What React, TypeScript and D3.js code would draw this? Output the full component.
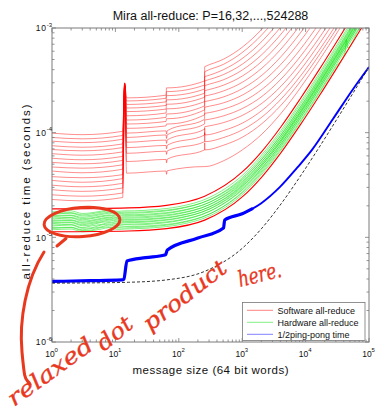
import React, { useEffect } from "react";
import * as d3 from "d3";

// ---------- software all-reduce (16 process counts, largest P first), times in microseconds ----------
const swSizes = [1, 3, 13, 14, 15, 63, 64, 66, 255, 256, 258, 512, 1024, 2048, 4096, 8192, 16384, 32768, 65536];
const swAt1 = [99, 90, 83, 75, 69, 63, 57, 52, 47, 43, 38, 35, 31.5, 28.5, 25.5, 23];
const swAt3 = [95.7, 87.3, 80.3, 72.6, 67.1, 60.9, 55.1, 50.4, 45.8, 41.4, 37.1, 33.6, 30.4, 27.5, 24.7, 22.3];
const swAt13 = [103, 94, 86.5, 78, 72, 65.5, 59.3, 54.3, 49.3, 44.7, 39.7, 36.4, 32.8, 29.6, 26.5, 24];
const swAt14 = [300, 298, 296, 294, 292, 290, 288, 286, 284, 282, 280, 278, 276, 274, 272, 270];
const swAt15 = [215, 201, 186, 172, 159, 145, 132, 121, 110, 99, 90, 81, 72, 63.5, 53, 41];
const swAt63 = [228, 213, 197, 182, 168, 154, 140, 128, 116, 104, 95, 85, 75.5, 66.5, 55.5, 43];
const swAt64 = [268, 247, 226, 206, 187, 169, 151, 136, 121, 97, 88, 79, 70, 62, 51.5, 40];
const swAt66 = [268, 247, 226, 206, 187, 169, 151, 136, 121, 104.5, 95.5, 85.5, 76, 67, 56, 43.3];
const swAt255 = [312, 285, 261, 238, 218, 198, 180, 165, 148, 134, 121, 108, 95, 82, 68.4, 47.4];
const swAt256 = [427, 382, 343, 312, 281, 252, 224, 198, 175, 153, 132, 114, 110, 100, 80, 47.4];
const swAt258 = [428, 383, 343.5, 312.5, 281.5, 252.3, 224.2, 198.2, 175.2, 153.1, 132.1, 114.1, 95, 82, 68.4, 47.4];
const swAt512 = [505, 451, 401, 360, 321, 285, 251, 220, 193, 168, 145, 125, 105, 90, 76, 54];
const swAt1024 = [662, 589, 516, 455, 400, 350, 305, 265, 230, 198, 171, 147, 124, 107, 91, 69];
const swAt2048 = [975, 864, 746, 646, 558, 481, 414, 354, 304, 259, 222, 191, 163, 141, 122, 97];
const swAt4096 = [1601, 1415, 1207, 1028, 874, 744, 630, 533, 451, 380, 325, 278, 240, 209, 183, 153];
const swAt8192 = [null, null, null, 1791, 1507, 1268, 1064, 891, 746, 622, 531, 454, 394, 344, 306, 266];
const swAt16384 = [null, null, null, null, null, null, null, 1606, 1335, 1106, 943, 804, 703, 614, 552, 491];
const swAt32768 = [null, null, null, null, null, null, null, null, null, null, 1767, 1505, 1321, 1155, 1043, 941];
const swAt65536 = [null, null, null, null, null, null, null, null, null, null, null, null, null, null, null, 1842];
const swColumns = [swAt1, swAt3, swAt13, swAt14, swAt15, swAt63, swAt64, swAt66, swAt255, swAt256, swAt258,
  swAt512, swAt1024, swAt2048, swAt4096, swAt8192, swAt16384, swAt32768, swAt65536];

// ---------- bounding model curves (red, thicker) ----------
const boundSizes = [1, 16, 64, 256, 1024, 2048, 4096, 8192, 16384, 32768, 65536, 100000];
const upperBound = [18.7, 19.1, 20.2, 24.7, 42.6, 66.4, 114, 210, 400, 782, 1546, null];
const lowerBound = [11.3, 11.5, 12.1, 14.6, 24.6, 37.9, 64.5, 118, 224, 437, 863, 1311];

// ---------- hardware all-reduce (green) ----------
const hwSizes = [1, 2, 3, 4, 6, 8, 11, 14, 20, 40, 100, 300, 1000, 3000, 10000, 30000, 65536, 100000];
const hwTimes = [
  [11.8, 12.0, 11.3, 11.5, 12.0, 12.4, 11.9, 12.0, 12.08, 12.35, 13.18, 15.94, 25.6, 53.2, 149.8, 425.8, 916, 1392],
  [12.1, 12.4, 11.6, 11.7, 12.4, 12.6, 12.3, 12.3, 12.4, 12.7, 13.6, 16.6, 27.1, 57.1, 162.1, 462.1, 995, 1512],
  [12.4, 12.5, 11.8, 12.1, 12.6, 13.1, 12.5, 12.7, 12.68, 12.97, 13.82, 16.66, 26.6, 55, 154.4, 438.4, 943, 1432],
  [12.8, 13.1, 12.2, 12.3, 13.1, 13.4, 12.9, 13.2, 13.12, 13.44, 14.4, 17.6, 28.8, 60.8, 172.8, 492.8, 1061, null],
  [13.1, 13.3, 12.4, 12.8, 13.3, 13.8, 13.3, 13.4, 13.4, 13.71, 14.62, 17.66, 28.3, 58.7, 165.1, 469.1, 1009, null],
  [13.5, 13.8, 12.9, 13.1, 13.9, 14.1, 13.6, 13.9, 13.84, 14.18, 15.2, 18.6, 30.5, 64.5, 183.5, 523.5, 1128, null],
  [13.8, 14.0, 13.2, 13.5, 14.1, 14.6, 14.0, 14.2, 14.12, 14.43, 15.38, 18.54, 29.6, 61.2, 171.8, 487.8, 1049, null],
  [14.2, 14.5, 13.6, 13.8, 14.5, 14.9, 14.3, 14.6, 14.55, 14.9, 15.95, 19.45, 31.7, 66.7, 189.2, 539.2, 1161, null],
  [14.5, 14.7, 13.9, 14.2, 14.9, 15.3, 14.7, 14.9, 14.83, 15.16, 16.15, 19.45, 31, 64, 179.5, 509.5, 1096, null],
  [14.9, 15.3, 14.3, 14.5, 15.2, 15.6, 15.1, 15.3, 15.27, 15.64, 16.75, 20.45, 33.4, 70.4, 199.9, 569.9, 1227, null],
  [15.3, 15.5, 14.7, 15.0, 15.7, 16.1, 15.4, 15.7, 15.64, 15.99, 17.02, 20.46, 32.5, 66.9, 187.3, 531.3, 1143, null],
  [15.7, 16.1, 15.1, 15.3, 16.0, 16.4, 15.9, 16.1, 16.09, 16.48, 17.65, 21.55, 35.2, 74.2, 210.7, 600.7, 1294, null],
  [16.1, 16.3, 15.5, 15.8, 16.5, 17.0, 16.3, 16.5, 16.46, 16.82, 17.9, 21.5, 34.1, 70.1, 196.1, 556.1, 1196, null],
  [16.6, 17.0, 16.0, 16.2, 16.9, 17.4, 16.8, 17.0, 17.01, 17.42, 18.65, 22.75, 37.1, 78.1, 221.6, 631.6, 1360, null],
  [17.0, 17.2, 16.4, 16.7, 17.4, 17.9, 17.2, 17.4, 17.38, 17.76, 18.9, 22.7, 36, 74, 207, 587, 1262, null],
  [17.5, 17.9, 16.9, 17.1, 17.8, 18.3, 17.7, 17.9, 17.93, 18.36, 19.65, 23.95, 39, 82, 232.5, 662.5, 1426, null],
];
const hwSpikeSizes = [42000, 44000, 46000];
const hwSpikeTimes = [591, 780, 647];

// ---------- 1/2 ping-pong time (blue) ----------
const ppSizes = [1, 4, 12.7, 13.6, 15.2, 30, 60, 62, 66, 200, 500, 508, 530, 1000, 1480, 2000, 3950, 7310, 12600, 27000, 55900, 100000];
const ppTimes = [3.79, 3.85, 3.92, 3.98, 5.95, 6.4, 6.79, 6.85, 7.58, 9.85, 12.2, 12.3, 14.66, 16.8, 18.9, 21.2, 30.3, 46, 68.4, 135, 260, 424];

// ---------- ping-pong model (black dashed) ----------
const modelSizes = [1, 4, 16, 64, 256, 1024, 2048, 4096, 8192, 16384, 32768, 65536, 100000];
const modelTimes = [3.65, 3.67, 3.72, 3.92, 4.73, 7.95, 12.25, 20.85, 38.1, 72.5, 141.3, 278.9, 423.7];

// ---------- axes / legend text ----------
const xTickValues = [1, 10, 100, 1000, 10000, 100000];
const xTickExps = ["0", "1", "2", "3", "4", "5"];
const yTickValues = [1e-6, 1e-5, 1e-4, 1e-3];
const yTickExps = ["-6", "-5", "-4", "-3"];
const legendNames = ["Software all-reduce", "Hardware all-reduce", "1/2ping-pong time"];
const legendColors = ["#ff0000", "#00e000", "#0000ff"];

const FONT = "'Liberation Sans', Arial, Helvetica, sans-serif";
const INK = "#e8391f";

type Pt = [number, number];

export default function App() {
  useEffect(() => {
    document.body.style.margin = "0";
  }, []);

  const x = d3.scaleLog().domain([1, 1e5]).range([52, 369]);
  const y = d3.scaleLog().domain([1e-6, 1e-3]).range([342, 28]);
  const line = d3
    .line<Pt>()
    .x((d) => x(d[0]))
    .y((d) => y(d[1] * 1e-6))
    .curve(d3.curveMonotoneX);

  const pairs = (sizes: number[], vals: (number | null)[]): Pt[] =>
    sizes.map((m, k) => [m, vals[k]] as [number, number | null]).filter((p) => p[1] != null) as Pt[];

  const swLines: Pt[][] = swAt1.map((_, i) => pairs(swSizes, swColumns.map((c) => c[i])));
  const hwLines: Pt[][] = hwTimes.map((vals, i) => {
    let pts = pairs(hwSizes, vals);
    if (i === 0) {
      pts = pts.concat(hwSpikeSizes.map((m, k) => [m, hwSpikeTimes[k]] as Pt)).sort((a, b) => a[0] - b[0]);
    }
    return pts;
  });
  const ppAll = pairs(ppSizes, ppTimes);
  const ppSmall = ppAll.filter((p) => p[0] <= 1480);
  const ppLarge = ppAll.filter((p) => p[0] >= 1000);

  const [x0, x1] = x.range();
  const [y0, y1] = y.range();
  const L = x0, R = x1, T = y1, B = y0;

  const xMinor: number[] = [];
  for (let d = 1; d < 1e5; d *= 10) for (let k = 2; k <= 9; k++) xMinor.push(d * k);
  const yMinor: number[] = [];
  for (let d = 1e-6; d < 1e-3 * 0.99; d *= 10) for (let k = 2; k <= 9; k++) yMinor.push(d * k);

  const axisColor = "#7a7a7a";
  const majorLen = 4;
  const minorLen = 2.5;

  return (
    <svg
      width={377}
      height={411}
      viewBox="0 0 377 411"
      style={{ position: "fixed", left: 0, top: 0, display: "block", background: "#fff" }}
      fontFamily={FONT}
    >
      <rect x={0} y={0} width={377} height={411} fill="#fff" />
      <defs>
        <clipPath id="plot">
          <rect x={L} y={T} width={R - L} height={B - T} />
        </clipPath>
      </defs>

      <text x={210.5} y={20} textAnchor="middle" fontSize={12.5} fill="#111">
        Mira all-reduce: P=16,32,...,524288
      </text>

      <g clipPath="url(#plot)" fill="none">
        {swLines.map((pts, i) => (
          <path key={"sw" + i} d={line(pts) || ""} stroke="#ff0000" strokeWidth={0.6} strokeOpacity={0.75} />
        ))}
        {hwLines.map((pts, i) => (
          <path key={"hw" + i} d={line(pts) || ""} stroke="#00e000" strokeWidth={0.55} strokeOpacity={0.9} />
        ))}
        <path d={line(pairs(boundSizes, upperBound)) || ""} stroke="#ff0000" strokeWidth={1.1} />
        <path d={line(pairs(boundSizes, lowerBound)) || ""} stroke="#ff0000" strokeWidth={1.1} />
        <path d={line(ppSmall) || ""} stroke="#0000ff" strokeWidth={3.2} />
        <path d={line(ppLarge) || ""} stroke="#0000ff" strokeWidth={1.9} />
        <path
          d={line(pairs(modelSizes, modelTimes)) || ""}
          stroke="#000"
          strokeWidth={0.8}
          strokeDasharray="3 2"
        />
      </g>

      {/* axes box and ticks */}
      <g stroke={axisColor} strokeWidth={0.8} fill="none">
        <rect x={L} y={T} width={R - L} height={B - T} strokeWidth={1} />
        {xTickValues.map((v) => (
          <g key={"xM" + v}>
            <line x1={x(v)} x2={x(v)} y1={B} y2={B - majorLen} />
            <line x1={x(v)} x2={x(v)} y1={T} y2={T + majorLen} />
          </g>
        ))}
        {xMinor.map((v) => (
          <g key={"xm" + v}>
            <line x1={x(v)} x2={x(v)} y1={B} y2={B - minorLen} />
            <line x1={x(v)} x2={x(v)} y1={T} y2={T + minorLen} />
          </g>
        ))}
        {yTickValues.map((v) => (
          <g key={"yM" + v}>
            <line x1={L} x2={L + majorLen} y1={y(v)} y2={y(v)} />
            <line x1={R} x2={R - majorLen} y1={y(v)} y2={y(v)} />
          </g>
        ))}
        {yMinor.map((v, i) => (
          <g key={"ym" + i}>
            <line x1={L} x2={L + minorLen} y1={y(v)} y2={y(v)} />
            <line x1={R} x2={R - minorLen} y1={y(v)} y2={y(v)} />
          </g>
        ))}
      </g>

      {/* tick labels */}
      <g fill="#111">
        {xTickValues.map((v, i) => (
          <g key={"xl" + v}>
            <text x={x(v) - 2} y={357.3} textAnchor="middle" fontSize={8.5}>
              10
            </text>
            <text x={x(v) + 2.6} y={352.3} fontSize={6}>
              {xTickExps[i]}
            </text>
          </g>
        ))}
        {yTickValues.map((v, i) => (
          <g key={"yl" + v}>
            <text x={46.5} y={y(v) + 3.3} textAnchor="end" fontSize={8.5} letterSpacing={0.6}>
              10
            </text>
            <text x={46.8} y={y(v) - 1.3} fontSize={6}>
              {yTickExps[i]}
            </text>
          </g>
        ))}
      </g>

      <text x={210.5} y={374} textAnchor="middle" fontSize={11.5} textLength={156} lengthAdjust="spacing" fill="#111">
        message size (64 bit words)
      </text>
      <text
        transform="translate(30,192) rotate(-90)"
        textAnchor="middle"
        fontSize={11.5}
        textLength={175}
        lengthAdjust="spacing"
        fill="#111"
      >
        all-reduce time (seconds)
      </text>

      {/* legend */}
      <g>
        <rect x={242.5} y={302.5} width={122.5} height={38} fill="#fff" stroke="#777" strokeWidth={0.8} />
        {legendNames.map((name, i) => (
          <g key={name}>
            <line
              x1={247}
              x2={273}
              y1={310.3 + i * 12}
              y2={310.3 + i * 12}
              stroke={legendColors[i]}
              strokeWidth={0.7}
              strokeOpacity={0.7}
            />
            <text x={277.5} y={313.5 + i * 12} fontSize={9} fill="#111">
              {name}
            </text>
          </g>
        ))}
      </g>

      {/* hand-written annotation */}
      <g stroke={INK} fill="none" strokeLinecap="round" strokeWidth={3}>
        <ellipse cx={82} cy={222} rx={38} ry={14.5} transform="rotate(-4 82 222)" />
        <path d="M 66 238.5 L 57 246" />
        <path d="M 44 252 C 26 280, 19 320, 22 352 S 25 377, 30 384" />
      </g>
      <g fill={INK} stroke={INK} strokeWidth={0.35} fontFamily="'DejaVu Serif', serif" fontStyle="italic" fontSize={22}>
        <text transform="translate(14,407) rotate(-36)" textLength={100} lengthAdjust="spacingAndGlyphs">
          relaxed
        </text>
        <text transform="translate(104,352) rotate(-40)" textLength={40} lengthAdjust="spacingAndGlyphs">
          dot
        </text>
        <text transform="translate(150,332) rotate(-38)" textLength={100} lengthAdjust="spacingAndGlyphs">
          product
        </text>
        <text transform="translate(240,287) rotate(-14)" textLength={44} lengthAdjust="spacingAndGlyphs">
          here.
        </text>
      </g>
    </svg>
  );
}
